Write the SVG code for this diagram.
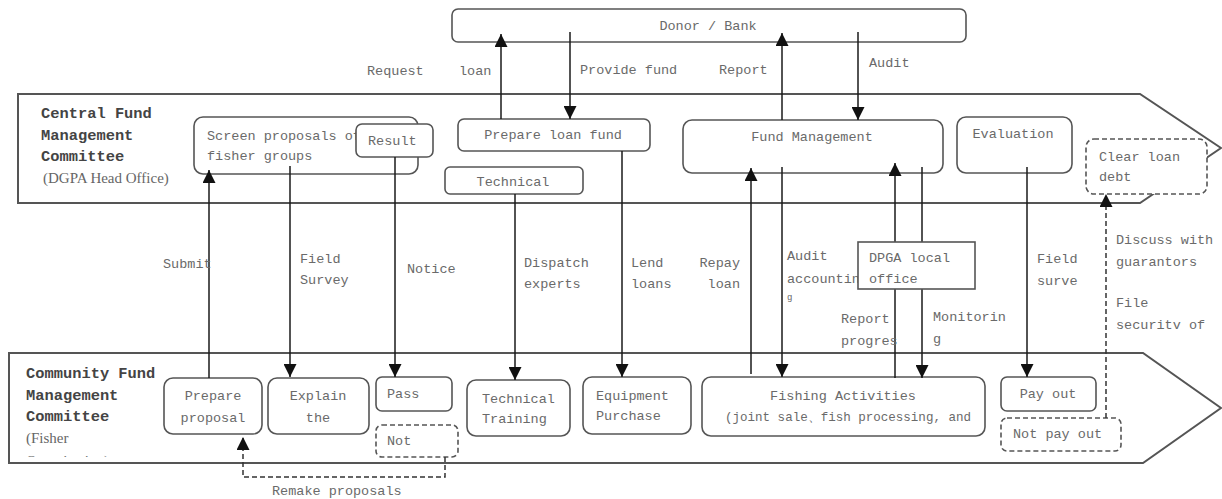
<svg xmlns="http://www.w3.org/2000/svg" width="1222" height="499" viewBox="0 0 1222 499">
  <defs>
    <marker id="arrow" markerUnits="userSpaceOnUse" markerWidth="13" markerHeight="13" refX="13" refY="6.5" orient="auto">
      <path d="M0,0 L13,6.5 L0,13 Z" fill="#111"/>
    </marker>
    <clipPath id="cutTitle">
      <rect x="0" y="440" width="200" height="17"/>
    </clipPath>
  </defs>
  <style>
    .band { fill: #fff; stroke: #555; stroke-width: 2; }
    .box { fill: #fff; stroke: #555; stroke-width: 1.6; }
    .dbox { fill: #fff; stroke: #555; stroke-width: 1.6; stroke-dasharray: 5 3; }
    .t { font-family: "Liberation Mono", "DejaVu Sans Mono", monospace; font-size: 13.5px; fill: #6a6a6a; }
    .tc { text-anchor: middle; }
    .title { font-family: "Liberation Mono", "DejaVu Sans Mono", monospace; font-size: 15.4px; font-weight: bold; fill: #444; }
    .sub { font-family: "Liberation Serif", "Times New Roman", serif; font-size: 15px; fill: #666; }
    .line { fill: none; stroke: #1a1a1a; stroke-width: 1.5; }
    .dline { fill: none; stroke: #333; stroke-width: 1.5; stroke-dasharray: 5 3; }
  </style>

  <!-- swim lanes -->
  <g id="lane-central">
    <path class="band" d="M18,94 L1140,94 L1221,148 L1140,203 L18,203 Z"/>
    <text class="title" x="41" y="118">Central Fund</text>
    <text class="title" x="41" y="140">Management</text>
    <text class="title" x="41" y="161">Committee</text>
    <text class="sub" x="43" y="183">(DGPA Head Office)</text>
  </g>
  <g id="lane-community">
    <path class="band" d="M9,353 L1143,353 L1221,408 L1143,463 L9,463 Z"/>
    <text class="title" x="26" y="378">Community Fund</text>
    <text class="title" x="26" y="400">Management</text>
    <text class="title" x="26" y="421">Committee</text>
    <text class="sub" x="26" y="443">(Fisher</text>
    <text class="sub" x="26" y="466" clip-path="url(#cutTitle)">Organization)</text>
  </g>

  <!-- top level -->
  <g id="donor-bank">
    <rect class="box" x="452" y="9" width="514" height="33" rx="6"/>
    <text class="t tc" x="708" y="30">Donor / Bank</text>
  </g>

  <!-- central committee nodes -->
  <g id="screen-proposals">
    <rect class="box" x="194" y="117" width="224" height="57" rx="9"/>
    <text class="t" x="207" y="140">Screen proposals of</text>
    <text class="t" x="207" y="160">fisher groups</text>
  </g>
  <g id="result">
    <rect class="box" x="356" y="124" width="77" height="33" rx="6"/>
    <text class="t" x="368" y="145">Result</text>
  </g>
  <g id="prepare-loan-fund">
    <rect class="box" x="458" y="119" width="192" height="32" rx="6"/>
    <text class="t tc" x="553" y="139">Prepare loan fund</text>
  </g>
  <g id="technical">
    <rect class="box" x="445" y="167" width="138" height="27" rx="5"/>
    <text class="t tc" x="513" y="186">Technical</text>
  </g>
  <g id="fund-management">
    <rect class="box" x="683" y="120" width="260" height="53" rx="9"/>
    <text class="t tc" x="812" y="141">Fund Management</text>
  </g>
  <g id="evaluation">
    <rect class="box" x="957" y="117" width="115" height="56" rx="9"/>
    <text class="t tc" x="1013" y="138">Evaluation</text>
  </g>
  <g id="clear-loan-debt">
    <rect class="dbox" x="1086" y="139" width="121" height="55" rx="8"/>
    <text class="t" x="1099" y="161">Clear loan</text>
    <text class="t" x="1099" y="181">debt</text>
  </g>

  <!-- community committee nodes -->
  <g id="prepare-proposal">
    <rect class="box" x="164" y="378" width="98" height="56" rx="9"/>
    <text class="t tc" x="213" y="400">Prepare</text>
    <text class="t tc" x="213" y="422">proposal</text>
  </g>
  <g id="explain">
    <rect class="box" x="268" y="378" width="101" height="56" rx="9"/>
    <text class="t tc" x="318" y="400">Explain</text>
    <text class="t tc" x="318" y="422">the</text>
  </g>
  <g id="pass">
    <rect class="box" x="376" y="377" width="76" height="34" rx="6"/>
    <text class="t" x="387" y="398">Pass</text>
  </g>
  <g id="not-pass">
    <rect class="dbox" x="376" y="425" width="82" height="32" rx="6"/>
    <text class="t" x="387" y="445">Not</text>
  </g>
  <g id="technical-training">
    <rect class="box" x="467" y="380" width="103" height="56" rx="9"/>
    <text class="t" x="482" y="403">Technical</text>
    <text class="t" x="482" y="423">Training</text>
  </g>
  <g id="equipment-purchase">
    <rect class="box" x="583" y="377" width="108" height="57" rx="9"/>
    <text class="t" x="596" y="400">Equipment</text>
    <text class="t" x="596" y="420">Purchase</text>
  </g>
  <g id="fishing-activities">
    <rect class="box" x="702" y="377" width="283" height="59" rx="9"/>
    <text class="t tc" x="843" y="400">Fishing Activities</text>
    <text class="t" x="725" y="421" textLength="246" lengthAdjust="spacingAndGlyphs">(joint sale、fish processing, and</text>
  </g>
  <g id="pay-out">
    <rect class="box" x="1001" y="377" width="95" height="34" rx="6"/>
    <text class="t tc" x="1048" y="398">Pay out</text>
  </g>
  <g id="not-pay-out">
    <rect class="dbox" x="1001" y="418" width="120" height="33" rx="6"/>
    <text class="t" x="1013" y="438">Not pay out</text>
  </g>

  <!-- connectors -->
  <g id="connectors">
    <path class="line" d="M501,119 V34" marker-end="url(#arrow)"/>
    <path class="line" d="M570,32 V119" marker-end="url(#arrow)"/>
    <path class="line" d="M782,120 V33" marker-end="url(#arrow)"/>
    <path class="line" d="M858,32 V120" marker-end="url(#arrow)"/>
    <path class="line" d="M209,378 V170" marker-end="url(#arrow)"/>
    <path class="line" d="M290,166 V377" marker-end="url(#arrow)"/>
    <path class="line" d="M395,157 V377" marker-end="url(#arrow)"/>
    <path class="line" d="M515,194 V380" marker-end="url(#arrow)"/>
    <path class="line" d="M622,151 V377" marker-end="url(#arrow)"/>
    <path class="line" d="M751,374 V168" marker-end="url(#arrow)"/>
    <path class="line" d="M782,167 V377" marker-end="url(#arrow)"/>
    <path class="line" d="M895,378 V289"/>
    <path class="line" d="M895,242 V163" marker-end="url(#arrow)"/>
    <path class="line" d="M922,167 V242"/>
    <path class="line" d="M922,289 V378" marker-end="url(#arrow)"/>
    <path class="line" d="M1027,167 V377" marker-end="url(#arrow)"/>
    <path class="dline" d="M1106,418 V194" marker-end="url(#arrow)"/>
    <path class="dline" d="M445,457 V477 H243 V437" marker-end="url(#arrow)"/>
  </g>

  <!-- connector labels -->
  <g id="labels">
    <text class="t" x="367" y="75">Request</text>
    <text class="t" x="459" y="75">loan</text>
    <text class="t" x="580" y="74">Provide fund</text>
    <text class="t" x="719" y="74">Report</text>
    <text class="t" x="869" y="67">Audit</text>
    <text class="t" x="163" y="268">Submit</text>
    <text class="t" x="300" y="263">Field</text>
    <text class="t" x="300" y="284">Survey</text>
    <text class="t" x="407" y="273">Notice</text>
    <text class="t" x="524" y="267">Dispatch</text>
    <text class="t" x="524" y="288">experts</text>
    <text class="t" x="631" y="267">Lend</text>
    <text class="t" x="631" y="288">loans</text>
    <text class="t" x="740" y="267" text-anchor="end">Repay</text>
    <text class="t" x="740" y="288" text-anchor="end">loan</text>
    <text class="t" x="787" y="260">Audit</text>
    <text class="t" x="787" y="283">accountin</text>
    <text class="t" x="787" y="300" style="font-size:9px">g</text>
    <text class="t" x="1037" y="263">Field</text>
    <text class="t" x="1037" y="285">surve</text>
    <text class="t" x="841" y="323">Report</text>
    <text class="t" x="841" y="345">progres</text>
    <text class="t" x="933" y="321">Monitorin</text>
    <text class="t" x="933" y="343">g</text>
    <text class="t" x="1116" y="244">Discuss with</text>
    <text class="t" x="1116" y="266">guarantors</text>
    <text class="t" x="1116" y="307">File</text>
    <text class="t" x="1116" y="329">securitv of</text>
    <text class="t" x="272" y="495">Remake proposals</text>
  </g>

  <!-- local office sits over the crossing lines -->
  <g id="dpga-local-office">
    <rect class="box" x="858" y="242" width="117" height="47"/>
    <text class="t" x="869" y="262">DPGA local</text>
    <text class="t" x="869" y="283">office</text>
  </g>
</svg>
